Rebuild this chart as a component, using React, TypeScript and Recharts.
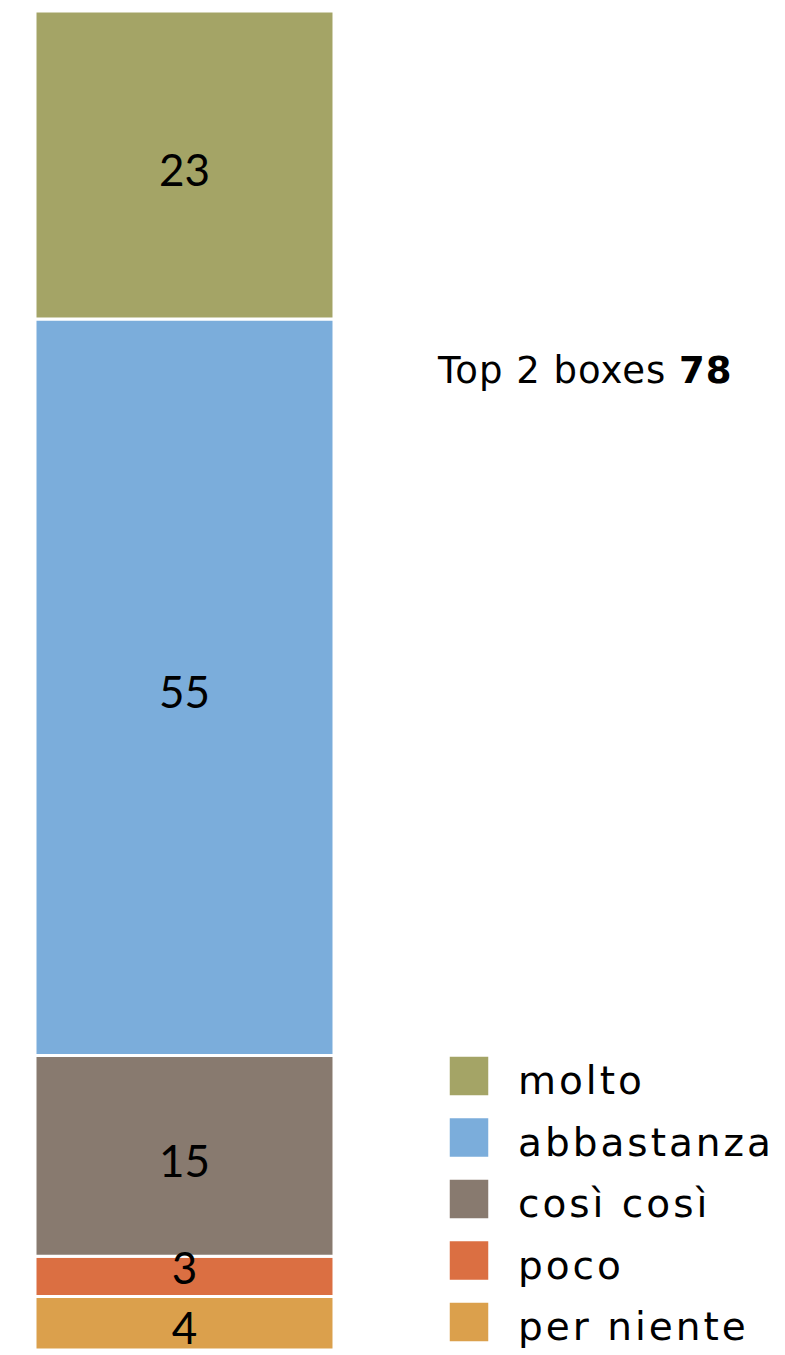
import React from 'react';
import { BarChart, Bar, XAxis, YAxis, LabelList, Customized } from 'recharts';

const seriesNames = ['per niente', 'poco', 'così così', 'abbastanza', 'molto'];
const seriesKeys = ['perNiente', 'poco', 'cosiCosi', 'abbastanza', 'molto'];
const seriesValues = [4, 3, 15, 55, 23];
const seriesColors = ['#DBA04C', '#DB6F42', '#887A6F', '#7BADDB', '#A4A466'];
const categories = [''];
const top2Label = 'Top 2 boxes';
const top2Value = 78;

const data = categories.map((c) => {
  const row: Record<string, string | number> = { name: c };
  seriesKeys.forEach((k, i) => {
    row[k] = seriesValues[i];
  });
  return row;
});

const FONT = 'Lato, "Open Sans", sans-serif';
const WIDE = '"DejaVu Sans", sans-serif';
const LABEL_SIZE = 44;

const SegmentLabel = (props: any) => {
  const { x, y, width, height, value } = props;
  const cx = Number(x) + Number(width) / 2;
  const h = Number(height);
  const cy = Number(y) + h / 2 + (h < LABEL_SIZE ? -9 : 4);
  return (
    <text
      x={cx}
      y={cy}
      textAnchor="middle"
      dominantBaseline="central"
      fontFamily={FONT}
      fontSize={LABEL_SIZE}
      fill="#000"
    >
      {value}
    </text>
  );
};

const Overlay = () => {
  const legendOrder = [...seriesNames.keys()].reverse();
  return (
    <g>
      <text x={430} y={375} fontFamily={WIDE} fontSize={37} letterSpacing={1} fill="#000">
        {top2Label} <tspan fontWeight={700}>{top2Value}</tspan>
      </text>
      {legendOrder.map((idx, row) => {
        const y = 1048 + row * 61.5;
        return (
          <g key={seriesNames[idx]}>
            <rect x={441} y={y} width={40} height={40} fill={seriesColors[idx]} stroke="#fff" strokeWidth={1.5} />
            <text x={510} y={y + 38} fontFamily={WIDE} fontSize={39} letterSpacing={3} fill="#000">
              {seriesNames[idx]}
            </text>
          </g>
        );
      })}
    </g>
  );
};

export default function App() {
  return (
    <div style={{ width: 769, height: 1347, fontFamily: FONT }}>
      <BarChart
        width={769}
        height={1347}
        data={data}
        margin={{ top: 3, right: 443, bottom: 5, left: 27 }}
        barCategoryGap={0}
      >
        <XAxis dataKey="name" hide />
        <YAxis hide domain={[0, 100]} />
        {seriesKeys.map((k, i) => (
          <Bar
            key={k}
            dataKey={k}
            name={seriesNames[i]}
            stackId="a"
            fill={seriesColors[i]}
            stroke="#fff"
            strokeWidth={3}
            isAnimationActive={false}
          >
            <LabelList dataKey={k} content={SegmentLabel} />
          </Bar>
        ))}
        <Customized component={Overlay} />
      </BarChart>
    </div>
  );
}
